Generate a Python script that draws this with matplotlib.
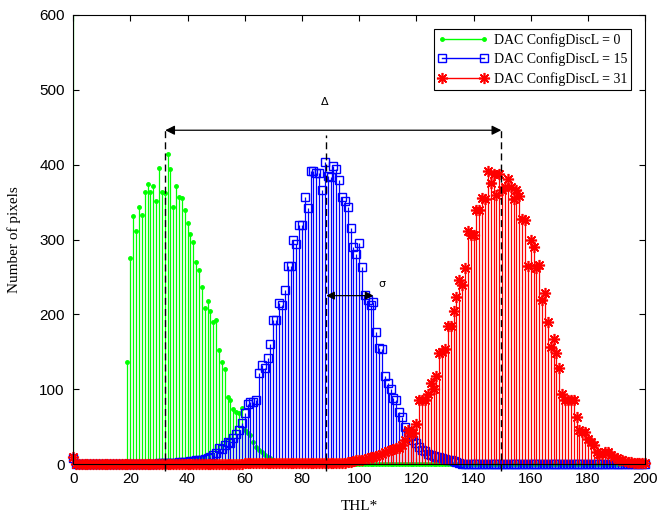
import numpy as np
import matplotlib
matplotlib.use('Agg')
import matplotlib.pyplot as plt
from matplotlib.lines import Line2D

# ----------------
# Data
# ----------------

thl = np.arange(0, 201)

# DAC ConfigDiscL = 0 : value at 0 is off scale, then x = 19..70
green_zero = 2000
green_start = 19
green_vals = [136, 275, 331, 312, 344, 333, 364, 374, 364, 372, 352, 396, 364, 362,
              414, 394, 344, 371, 357, 356, 339, 322, 308, 296, 270, 259, 237, 208,
              218, 204, 190, 192, 152, 136, 127, 90, 86, 73, 70, 68, 75, 46, 41, 39,
              30, 23, 19, 16, 12, 10, 8, 5]

# DAC ConfigDiscL = 15 : value at 0, then x = 30..135
blue_zero = 8
blue_start = 30
blue_vals = [1, 1, 1, 2, 2, 2, 2, 3, 3, 3, 3, 4, 4, 5, 5, 6, 7, 8, 10, 12,
             15, 22, 20, 26, 30, 28, 35, 40, 45, 55, 68, 80, 83, 83, 85, 121, 132, 128, 141, 161,
             192, 192, 215, 213, 232, 264, 265, 300, 294, 320, 320, 357, 342, 392, 392, 389, 389, 366, 403, 385,
             384, 398, 394, 380, 357, 351, 343, 316, 290, 281, 295, 263, 226, 219, 212, 217, 177, 155, 154, 117,
             108, 100, 88, 86, 70, 63, 50, 43, 37, 32, 28, 23, 19, 17, 14, 12, 11, 10, 9, 8,
             7, 6, 5, 4, 3, 2]

# DAC ConfigDiscL = 31 : value at 0, then x = 60..200
red_zero = 10
red_start = 60
red_vals = [1, 1, 1, 1, 1, 1, 1, 1, 1, 1, 1, 1, 1, 1, 1, 1, 1, 1, 1, 1,
            1, 1, 1, 1, 1, 1, 1, 1, 1, 1, 1, 1, 1, 1, 1,
            2, 3, 3, 4, 5, 5, 6, 7, 8, 9, 10, 11, 12, 14, 16, 18, 19, 20, 21, 21,
            25, 32, 45, 41, 42, 54, 86, 86, 86, 94, 108, 100, 118, 148, 150, 154, 185, 185, 205, 223,
            246, 239, 262, 311, 306, 306, 340, 340, 356, 354, 392, 375, 388, 360, 388, 366, 370, 381, 370, 354,
            366, 358, 328, 326, 264, 300, 290, 262, 266, 219, 228, 190, 157, 167, 148, 128, 93, 86, 86, 86,
            86, 63, 45, 43, 43, 34, 29, 25, 16, 14, 14, 16, 16, 12, 10, 8, 6, 5, 4, 3,
            3, 2, 2, 2, 1, 1]

labels = ['DAC ConfigDiscL = 0', 'DAC ConfigDiscL = 15', 'DAC ConfigDiscL = 31']

# mean positions and annotation levels
mu = [32.2, 88.5, 149.7]
dash_top = [446, 440, 446]
delta_y = 446
sigma_y = 225
sigma_x = [88.5, 105.0]


def build(zero, start, vals):
    y = np.zeros(len(thl))
    y[0] = zero
    y[start:start + len(vals)] = vals
    return y


green = build(green_zero, green_start, green_vals)
blue = build(blue_zero, blue_start, blue_vals)
red = build(red_zero, red_start, red_vals)

# ----------------
# Figure
# ----------------

fig = plt.figure(figsize=(6.59, 5.17), dpi=100)
ax = fig.add_axes([0.111, 0.1025, 0.868, 0.8685])

styles = [
    (green, (0, 1, 0), dict(marker='.', markersize=5, markerfacecolor=(0, 1, 0))),
    (blue, (0, 0, 1), dict(marker='s', markersize=6.3, markerfacecolor='none', markeredgewidth=1.0)),
    (red, (1, 0, 0), dict(marker=(8, 2, 0), markersize=8, markeredgewidth=1.2)),
]

handles = []
for y, col, mk in styles:
    markerline, stemlines, baseline = ax.stem(thl, y, basefmt=' ')
    plt.setp(stemlines, color=col, linewidth=0.9)
    plt.setp(markerline, color=col, linestyle='none', markeredgecolor=col, clip_on=False, **mk)
    handles.append(Line2D([], [], color=col, linewidth=1.0, markeredgecolor=col, **mk))

# dashed mean lines
for m, top in zip(mu, dash_top):
    ax.plot([m, m], [-10, top], color='k', linestyle=(0, (5, 3)), linewidth=1.0, clip_on=False)

# delta arrow
ax.annotate('', xy=(mu[0], delta_y), xytext=(mu[2], delta_y),
            arrowprops=dict(arrowstyle='<|-|>', color='k', lw=0.9, mutation_scale=14,
                            shrinkA=0, shrinkB=0))
ax.text(88.0, 484, '\u0394', fontsize=8, ha='center', va='center', family='DejaVu Sans')

# sigma arrow
ax.annotate('', xy=(sigma_x[0], sigma_y), xytext=(sigma_x[1], sigma_y),
            arrowprops=dict(arrowstyle='<|-|>', color='k', lw=0.9, mutation_scale=12,
                            shrinkA=0, shrinkB=0))
ax.text(108.0, 240, '\u03c3', fontsize=8, ha='center', va='center', family='DejaVu Sans')

ax.set_xlim(0, 200)
ax.set_ylim(0, 600)
ax.set_xticks(np.arange(0, 201, 20))
ax.set_yticks(np.arange(0, 601, 100))
ax.tick_params(direction='in', top=True, right=True, length=4, width=0.8,
               labelsize=11, pad=6)
for lab in ax.get_xticklabels() + ax.get_yticklabels():
    lab.set_family('Liberation Sans')
for sp in ax.spines.values():
    sp.set_linewidth(0.8)

ax.set_xlabel('THL*', family='Liberation Serif', fontsize=11, labelpad=10)
ax.set_ylabel('Number of pixels', family='Liberation Serif', fontsize=11, labelpad=13)

leg = ax.legend(handles, labels, loc='upper right', numpoints=2, handlelength=3.6,
                prop={'family': 'Liberation Serif', 'size': 10},
                fancybox=False, edgecolor='k', framealpha=1,
                borderaxespad=1.0, handletextpad=0.4, labelspacing=0.4, borderpad=0.3)
leg.get_frame().set_linewidth(0.8)

fig.savefig('out.png', dpi=100)
